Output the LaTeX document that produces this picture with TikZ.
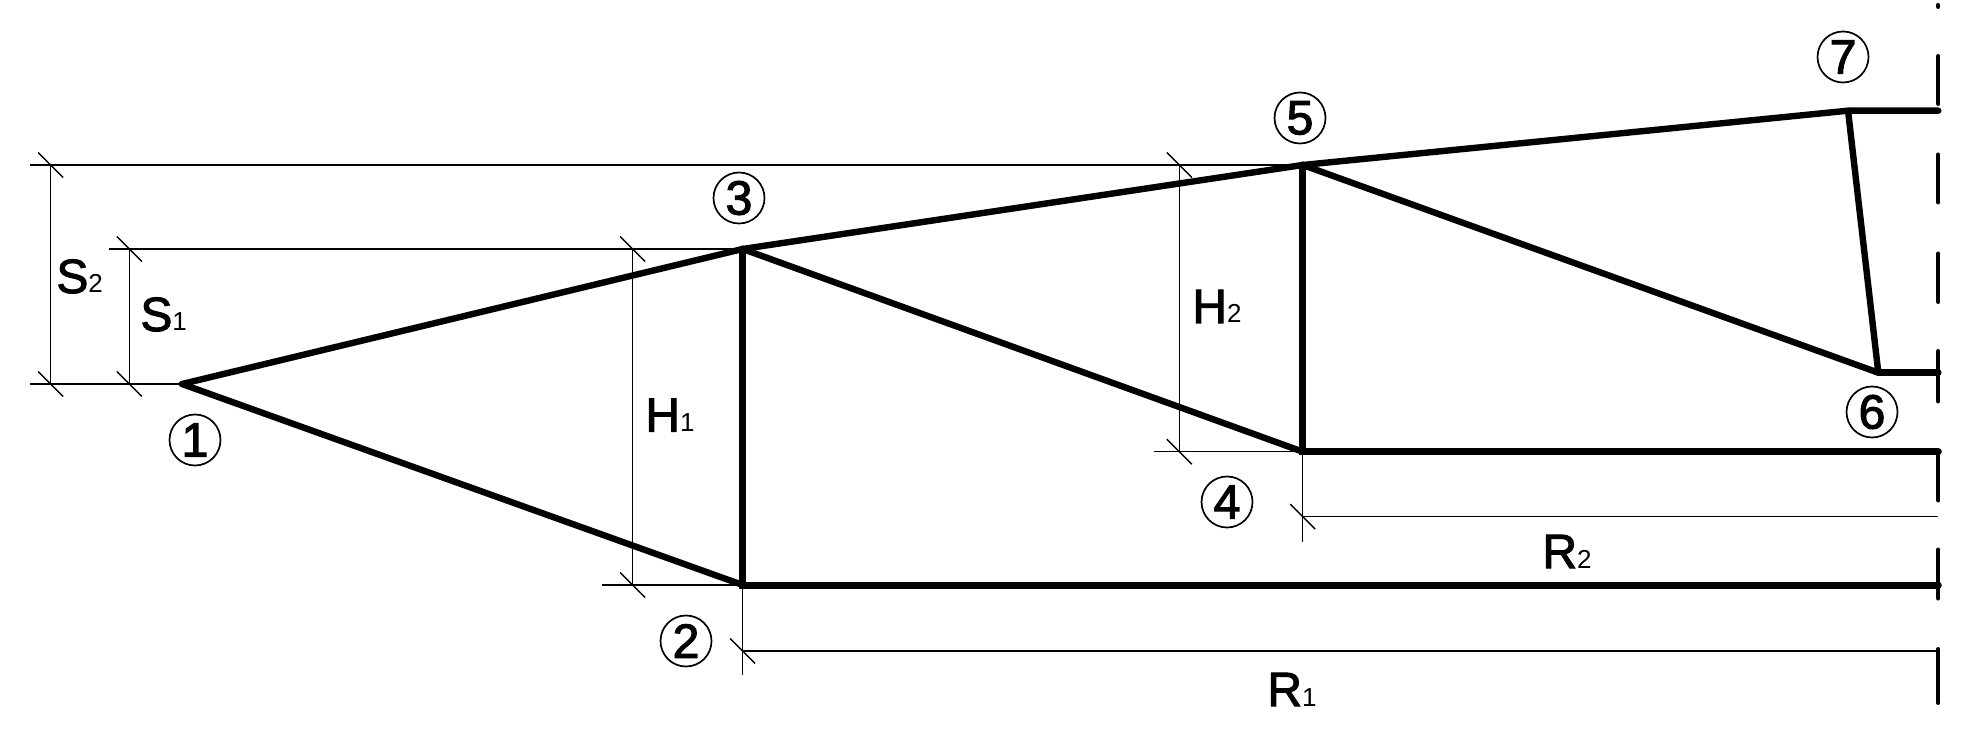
\documentclass[tikz,border=0pt]{standalone}
\usepackage{fontspec}
\setmainfont{Liberation Sans}
\newfontfamily\heavyfont[FakeBold=2.2]{Liberation Sans}
\newfontfamily\numfont[FakeBold=2.4]{Liberation Sans}
\tikzset{
  x=0.5pt,y=-0.5pt,
  thinline/.style={line width=0.7pt,black},
  chord/.style={line width=3.2pt,black,line cap=round,line join=round},
  post/.style={line width=3.5pt,black,line cap=round},
  axisline/.style={line width=2pt,black,line cap=round},
  numlabel/.style={circle,draw,line width=0.85pt,minimum size=25.5pt,inner sep=0pt,font=\fontsize{24}{24}\selectfont\numfont},
  dimlabel/.style={anchor=base west,inner sep=0pt,font=\fontsize{24}{24}\selectfont},
}
\newcommand{\dimtick}[1]{\draw[thinline] (#1) ++(-12.5,-12.5) -- ++(25,25);}
\newcommand{\lab}[2]{{\heavyfont #1}{\fontsize{13}{13}\selectfont #2}}
\begin{document}
\begin{tikzpicture}
\path[use as bounding box] (0,0) rectangle (1973,742);
% joints
\coordinate (p1) at (182,384);
\coordinate (p2) at (742.7,585);
\coordinate (p3) at (742.7,249);
\coordinate (p4) at (1302.7,451.7);
\coordinate (p5) at (1302.7,165);
\coordinate (p6) at (1878.3,372.7);
\coordinate (p7) at (1848,110.7);
% axis points
\coordinate (a7) at (1938.3,110.7);
\coordinate (a6) at (1938.3,372.7);
\coordinate (a4) at (1938.3,451.7);
\coordinate (a2) at (1938.3,585);
% dimension helpers
\coordinate (s2t) at (50.7,165);
\coordinate (s2b) at (50.7,384);
\coordinate (s1t) at (129.3,249);
\coordinate (s1b) at (129.3,384);
\coordinate (h1t) at (632.7,249);
\coordinate (h1b) at (632.7,585);
\coordinate (h2t) at (1179.3,165);
\coordinate (h2b) at (1179.3,451.7);
\coordinate (r1a) at (742.7,651);
\coordinate (r1b) at (1938.3,651);
\coordinate (r1e) at (742.7,675);
\coordinate (r2a) at (1302.7,516.7);
\coordinate (r2b) at (1938.3,516.7);
\coordinate (r2e) at (1302.7,541.7);
\coordinate (e1) at (30,384);
\coordinate (e2) at (30,165);
\coordinate (e3) at (108.7,249);
\coordinate (e4) at (602,585);
\coordinate (e5) at (1154,451.7);
% thin dimension lines
\draw[thinline] (e2) -- (p5);
\draw[thinline] (e3) -- (p3);
\draw[thinline] (e1) -- (p1);
\draw[thinline] (e4) -- (p2);
\draw[thinline] (e5) -- (p4);
\draw[thinline] (p2) -- (r1e);
\draw[thinline] (p4) -- (r2e);
\draw[thinline] (s2t) -- (s2b);
\draw[thinline] (s1t) -- (s1b);
\draw[thinline] (h1t) -- (h1b);
\draw[thinline] (h2t) -- (h2b);
\draw[thinline] (r1a) -- (r1b);
\draw[thinline] (r2a) -- (r2b);
\dimtick{s2t}\dimtick{s2b}\dimtick{s1t}\dimtick{s1b}
\dimtick{h1t}\dimtick{h1b}\dimtick{h2t}\dimtick{h2b}
\dimtick{r1a}\dimtick{r2a}
% axis
\foreach \ya/\yb in {5/7,56/104,154.5/202.5,253.5/302,351/401.5,451/500.5,549.5/598.5,649/703}
  \draw[axisline] (1938.3,\ya) -- (1938.3,\yb);
% truss
\draw[chord] (p1) -- (p3) -- (p5) -- (p7) -- (a7);
\draw[chord] (p1) -- (p2);
\draw[chord] (p3) -- (p4);
\draw[chord] (p5) -- (p6) -- (p7);
\draw[chord] (p6) -- (a6);
\draw[post] (p3) -- (p2) -- (a2);
\draw[post] (p5) -- (p4) -- (a4);
% circled numbers
\node[numlabel] (n1) at (195,440) {1};
\node[numlabel] (n2) at (686,641) {2};
\node[numlabel] (n3) at (739,198) {3};
\node[numlabel] (n4) at (1227,502) {4};
\node[numlabel] (n5) at (1300,118) {5};
\node[numlabel] (n6) at (1872,412) {6};
\node[numlabel] (n7) at (1843,57) {7};
% labels
\node[dimlabel] (ls2) at (56,293) {\lab{S}{2}};
\node[dimlabel] (ls1) at (140,331) {\lab{S}{1}};
\node[dimlabel] (lh1) at (645,431.7) {\lab{H}{1}};
\node[dimlabel] (lh2) at (1192,323) {\lab{H}{2}};
\node[dimlabel] (lr2) at (1542,568) {\lab{R}{2}};
\node[dimlabel] (lr1) at (1267,706) {\lab{R}{1}};
\end{tikzpicture}
\end{document}
